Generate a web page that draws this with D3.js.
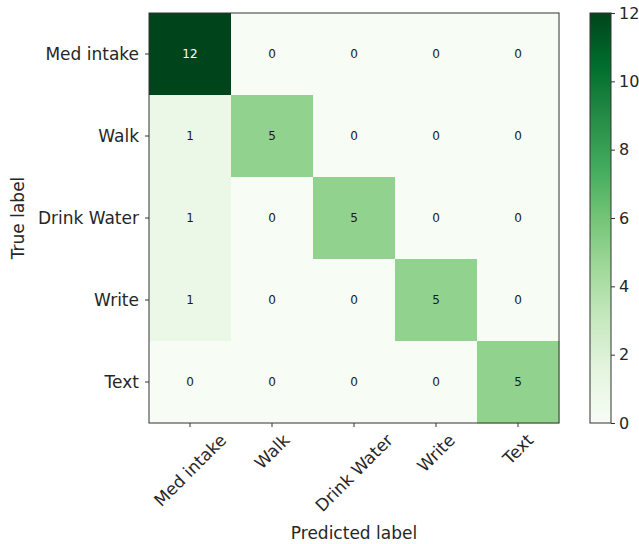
<!DOCTYPE html>
<html>
<head>
<meta charset="utf-8">
<script src="https://cdn.jsdelivr.net/npm/d3@7"></script>
<style>
  body { margin: 0; background: #fff; }
  svg { display: block; font-family: "DejaVu Sans", sans-serif; }
</style>
</head>
<body>
<svg id="chart" width="639" height="544"></svg>
<script>
// Class labels (rows = true, columns = predicted)
const classes = ["Med intake", "Walk", "Drink Water", "Write", "Text"];

// Confusion matrix counts, one array per true class
const rowMedIntake  = [12, 0, 0, 0, 0];
const rowWalk       = [1, 5, 0, 0, 0];
const rowDrinkWater = [1, 0, 5, 0, 0];
const rowWrite      = [1, 0, 0, 5, 0];
const rowText       = [0, 0, 0, 0, 5];
const matrix = [rowMedIntake, rowWalk, rowDrinkWater, rowWrite, rowText];

// Colour bar ticks
const colorbarTicks = [0, 2, 4, 6, 8, 10, 12];

// Greens colour ramp (ColorBrewer 9-class)
const greens = ["#f7fcf5", "#e5f5e0", "#c7e9c0", "#a1d99b", "#74c476",
                "#41ab5d", "#238b45", "#006d2c", "#00441b"];

const svg = d3.select("#chart");
const plotLeft = 149, plotTop = 13, size = 410;
const vmax = d3.max(matrix.flat());

const x = d3.scaleBand().domain(d3.range(classes.length)).range([plotLeft, plotLeft + size]);
const y = d3.scaleBand().domain(d3.range(classes.length)).range([plotTop, plotTop + size]);

const color = d3.scaleLinear()
  .domain(greens.map((_, i) => i / (greens.length - 1) * vmax))
  .range(greens)
  .interpolate(d3.interpolateRgb);

const cells = [];
matrix.forEach((row, i) => row.forEach((v, j) => cells.push({ i, j, v })));

svg.append("g").selectAll("rect").data(cells).join("rect")
  .attr("x", d => x(d.j))
  .attr("y", d => y(d.i))
  .attr("width", x.bandwidth() + 0.5)
  .attr("height", y.bandwidth() + 0.5)
  .attr("fill", d => color(d.v));

svg.append("g").selectAll("text").data(cells).join("text")
  .attr("x", d => x(d.j) + x.bandwidth() / 2)
  .attr("y", d => y(d.i) + y.bandwidth() / 2)
  .attr("text-anchor", "middle")
  .attr("dominant-baseline", "central")
  .attr("font-size", 12)
  .attr("fill", d => d.v > vmax / 2 ? "#ffffff" : "#1a1a1a")
  .text(d => d.v);

// Frame
svg.append("rect")
  .attr("x", plotLeft).attr("y", plotTop).attr("width", size).attr("height", size)
  .attr("fill", "none").attr("stroke", "#333").attr("stroke-width", 1);

// Y axis ticks and labels
const yAxis = svg.append("g");
classes.forEach((c, i) => {
  const cy = y(i) + y.bandwidth() / 2;
  yAxis.append("line").attr("x1", plotLeft - 4).attr("x2", plotLeft).attr("y1", cy).attr("y2", cy)
    .attr("stroke", "#333");
  yAxis.append("text").attr("x", plotLeft - 10).attr("y", cy)
    .attr("text-anchor", "end").attr("dominant-baseline", "central")
    .attr("font-size", 17).attr("fill", "#262626").text(c);
});

// X axis ticks and rotated labels (bounding box centred under each tick)
const xAxis = svg.append("g");
const plotBottom = plotTop + size;
classes.forEach((c, j) => {
  const cx = x(j) + x.bandwidth() / 2;
  xAxis.append("line").attr("x1", cx).attr("x2", cx).attr("y1", plotBottom).attr("y2", plotBottom + 4)
    .attr("stroke", "#333");
  const t = xAxis.append("text")
    .attr("text-anchor", "middle").attr("dominant-baseline", "central")
    .attr("font-size", 17).attr("fill", "#262626").text(c);
  const L = t.node().getComputedTextLength();
  const H = 17 * 1.17;
  const half = (L + H) * Math.SQRT1_2 / 2;
  t.attr("transform", `translate(${cx},${plotBottom + 7 + half}) rotate(-45)`);
});

// Axis titles
svg.append("text").attr("x", plotLeft + size / 2).attr("y", 539)
  .attr("text-anchor", "middle").attr("font-size", 17).attr("fill", "#262626")
  .text("Predicted label");
svg.append("text")
  .attr("transform", `translate(18,${plotTop + size / 2}) rotate(-90)`)
  .attr("text-anchor", "middle").attr("dominant-baseline", "central")
  .attr("font-size", 17).attr("fill", "#262626")
  .text("True label");

// Colour bar
const cbX = 590, cbW = 21;
const grad = svg.append("defs").append("linearGradient")
  .attr("id", "cbgrad").attr("x1", 0).attr("y1", 1).attr("x2", 0).attr("y2", 0);
greens.forEach((g, i) => grad.append("stop")
  .attr("offset", i / (greens.length - 1)).attr("stop-color", g));
svg.append("rect").attr("x", cbX).attr("y", plotTop).attr("width", cbW).attr("height", size)
  .attr("fill", "url(#cbgrad)").attr("stroke", "#333").attr("stroke-width", 1);

const cbScale = d3.scaleLinear().domain([0, vmax]).range([plotTop + size, plotTop]);
const cbAxis = d3.axisRight(cbScale).tickValues(colorbarTicks).tickSize(4).tickPadding(4);
svg.append("g").attr("transform", `translate(${cbX + cbW},0)`).call(cbAxis)
  .call(g => g.select(".domain").remove())
  .call(g => g.selectAll("line").attr("stroke", "#333"))
  .call(g => g.selectAll("text").attr("font-size", 16).attr("fill", "#262626")
    .attr("font-family", "DejaVu Sans, sans-serif"));
</script>
</body>
</html>
